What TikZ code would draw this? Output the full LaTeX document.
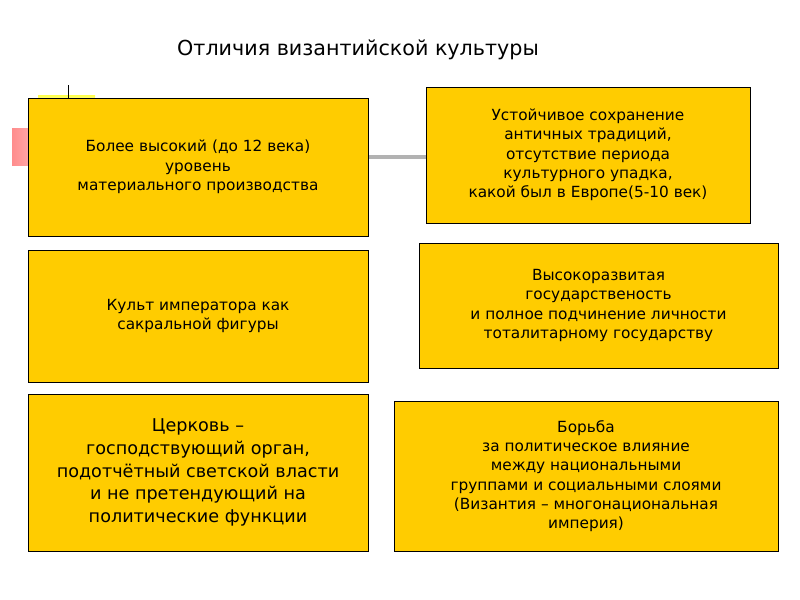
\documentclass[tikz,border=0pt]{standalone}
\usepackage{fontspec}
\setmainfont{DejaVu Sans}
\begin{document}
\begin{tikzpicture}[x=0.75pt,y=-0.75pt,
  box/.style={draw=black,fill={rgb,255:red,255;green,204;blue,0},align=center,font=\fontsize{11.5}{14.5}\selectfont},
  big/.style={font=\fontsize{13.2}{17}\selectfont}]
\useasboundingbox (0,0) rectangle (800,600);
\fill[white] (0,0) rectangle (800,600);
\shade[left color=red!45,right color=white] (12,128) rectangle (90,165);
\shade[top color=yellow!70,bottom color=white] (38,95) rectangle (95,110);
\node[font=\fontsize{15.5}{19}\selectfont] (t) at (358,50) {Отличия византийской культуры};
\coordinate (tk1) at (68,85); \coordinate (tk2) at (68,98);
\draw (tk1) -- (tk2);
\coordinate (g1) at (360,157); \coordinate (g2) at (430,157);
\draw[gray!60,line width=2.5pt] (g1) -- (g2);
\draw[box] (28,98) rectangle (368,236) node[midway,box,draw=none] (b1) {Более высокий (до 12 века)\\уровень\\материального производства};
\draw[box] (426,87) rectangle (750,223) node[midway,box,draw=none] (b2) {Устойчивое сохранение\\античных традиций,\\отсутствие периода\\культурного упадка,\\какой был в Европе(5-10 век)};
\draw[box] (28,250) rectangle (368,382) node[midway,box,draw=none] (b3) {Культ императора как\\сакральной фигуры};
\draw[box] (419,243) rectangle (778,368) node[midway,box,draw=none] (b4) {Высокоразвитая\\государственость\\и полное подчинение личности\\тоталитарному государству};
\draw[box] (28,394) rectangle (368,551) node[midway,box,big,draw=none] (b5) {Церковь –\\господствующий орган,\\подотчётный светской власти\\и не претендующий на\\политические функции};
\draw[box] (394,401) rectangle (778,551) node[midway,box,draw=none] (b6) {Борьба\\за политическое влияние\\между национальными\\группами и социальными слоями\\(Византия – многонациональная\\империя)};
\end{tikzpicture}
\end{document}
